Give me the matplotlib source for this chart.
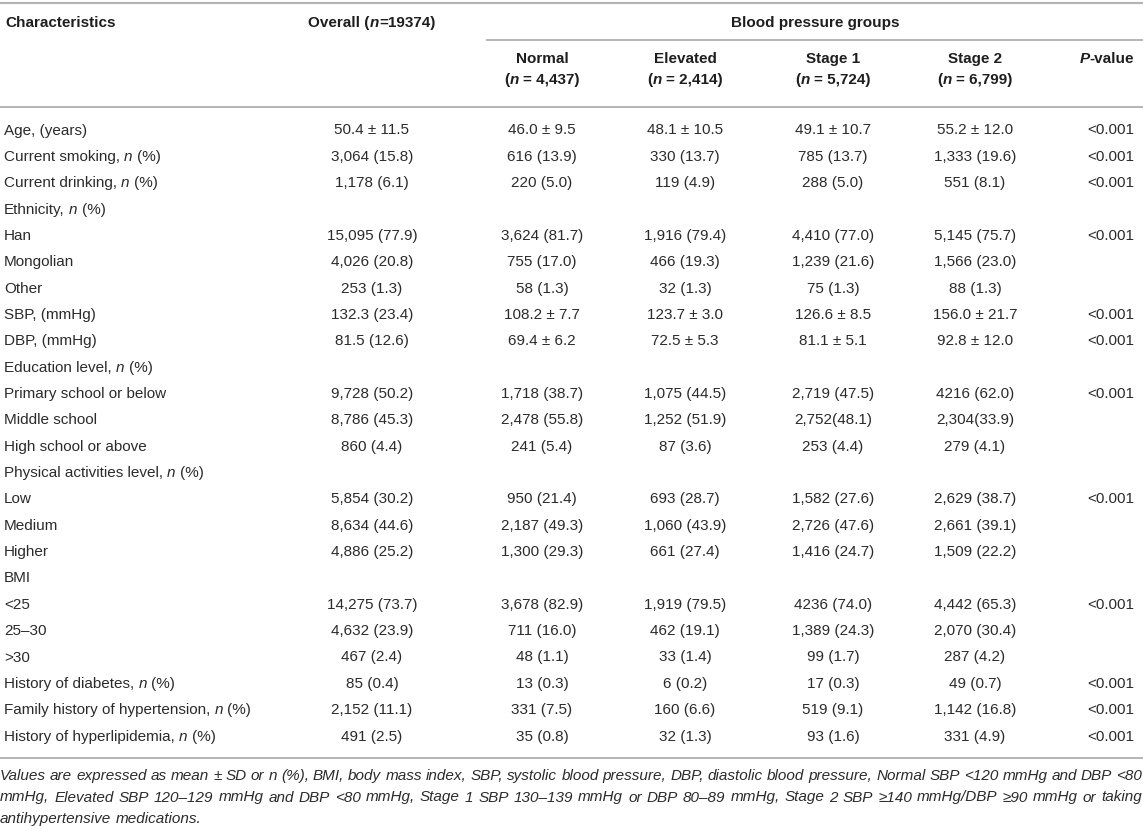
import matplotlib
matplotlib.use("Agg")
import matplotlib.pyplot as plt

plt.rcParams['font.family'] = ['Liberation Sans', 'DejaVu Sans']

# table data ("*n*" marks the italic letter)
labels = ["Age, (years)", "Current smoking, *n* (%)", "Current drinking, *n* (%)",
          "Ethnicity, *n* (%)", "Han", "Mongolian", "Other", "SBP, (mmHg)", "DBP, (mmHg)",
          "Education level, *n* (%)", "Primary school or below", "Middle school",
          "High school or above", "Physical activities level, *n* (%)", "Low", "Medium",
          "Higher", "BMI", "<25", "25–30", ">30", "History of diabetes, *n* (%)",
          "Family history of hypertension, *n* (%)", "History of hyperlipidemia, *n* (%)"]
overall = ["50.4 ± 11.5", "3,064 (15.8)", "1,178 (6.1)", "", "15,095 (77.9)", "4,026 (20.8)",
           "253 (1.3)", "132.3 (23.4)", "81.5 (12.6)", "", "9,728 (50.2)", "8,786 (45.3)",
           "860 (4.4)", "", "5,854 (30.2)", "8,634 (44.6)", "4,886 (25.2)", "",
           "14,275 (73.7)", "4,632 (23.9)", "467 (2.4)", "85 (0.4)", "2,152 (11.1)", "491 (2.5)"]
normal = ["46.0 ± 9.5", "616 (13.9)", "220 (5.0)", "", "3,624 (81.7)", "755 (17.0)", "58 (1.3)",
          "108.2 ± 7.7", "69.4 ± 6.2", "", "1,718 (38.7)", "2,478 (55.8)", "241 (5.4)", "",
          "950 (21.4)", "2,187 (49.3)", "1,300 (29.3)", "", "3,678 (82.9)", "711 (16.0)",
          "48 (1.1)", "13 (0.3)", "331 (7.5)", "35 (0.8)"]
elevated = ["48.1 ± 10.5", "330 (13.7)", "119 (4.9)", "", "1,916 (79.4)", "466 (19.3)", "32 (1.3)",
            "123.7 ± 3.0", "72.5 ± 5.3", "", "1,075 (44.5)", "1,252 (51.9)", "87 (3.6)", "",
            "693 (28.7)", "1,060 (43.9)", "661 (27.4)", "", "1,919 (79.5)", "462 (19.1)",
            "33 (1.4)", "6 (0.2)", "160 (6.6)", "32 (1.3)"]
stage1 = ["49.1 ± 10.7", "785 (13.7)", "288 (5.0)", "", "4,410 (77.0)", "1,239 (21.6)", "75 (1.3)",
          "126.6 ± 8.5", "81.1 ± 5.1", "", "2,719 (47.5)", "2,752(48.1)", "253 (4.4)", "",
          "1,582 (27.6)", "2,726 (47.6)", "1,416 (24.7)", "", "4236 (74.0)", "1,389 (24.3)",
          "99 (1.7)", "17 (0.3)", "519 (9.1)", "93 (1.6)"]
stage2 = ["55.2 ± 12.0", "1,333 (19.6)", "551 (8.1)", "", "5,145 (75.7)", "1,566 (23.0)", "88 (1.3)",
          "156.0 ± 21.7", "92.8 ± 12.0", "", "4216 (62.0)", "2,304(33.9)", "279 (4.1)", "",
          "2,629 (38.7)", "2,661 (39.1)", "1,509 (22.2)", "", "4,442 (65.3)", "2,070 (30.4)",
          "287 (4.2)", "49 (0.7)", "1,142 (16.8)", "331 (4.9)"]
pvals = ["<0.001", "<0.001", "<0.001", "", "<0.001", "", "", "<0.001", "<0.001", "",
         "<0.001", "", "", "", "<0.001", "", "", "", "<0.001", "", "", "<0.001", "<0.001", "<0.001"]
groups = ["Normal", "Elevated", "Stage 1", "Stage 2"]
group_n = ["4,437", "2,414", "5,724", "6,799"]

footnote = [
    "Values are expressed as mean ± SD or n (%), BMI, body mass index, SBP, systolic blood pressure, "
    "DBP, diastolic blood pressure, Normal SBP <120 mmHg and DBP <80",
    "mmHg, Elevated SBP 120–129 mmHg and DBP <80 mmHg, Stage 1 SBP 130–139 mmHg or DBP 80–89 mmHg, "
    "Stage 2 SBP ≥140 mmHg/DBP ≥90 mmHg or taking",
    "antihypertensive medications.",
]

W, H = 1143, 826
fig = plt.figure(figsize=(W / 100, H / 100), dpi=100)
ax = fig.add_axes([0, 0, 1, 1])
ax.set_xlim(0, W)
ax.set_ylim(H, 0)
ax.axis('off')
fig.canvas.draw()
r = fig.canvas.get_renderer()

txt = '#2b2b2b'
hdr = '#1e1e1e'
line_c = '#b4b4b4'
fs = 11
space_w = 0.278 * fs * 100 / 72


def rich(x, y, s, ha='left', weight='normal', color=txt):
    # split on *..* markers, italic inside
    pieces = s.split('*')
    items = []
    for k, p in enumerate(pieces):
        if not p:
            continue
        lead = len(p) - len(p.lstrip(' '))
        trail = len(p) - len(p.rstrip(' '))
        t = ax.text(0, y, p.strip(' '), fontsize=fs, fontweight=weight, color=color,
                    style='italic' if k % 2 else 'normal', va='center')
        w = t.get_window_extent(r).width
        items.append([t, lead * space_w, w, trail * space_w])
    total = sum(a + b + c for _, a, b, c in items)
    x0 = {'left': x, 'center': x - total / 2, 'right': x - total}[ha]
    for t, a, w, c in items:
        x0 += a
        t.set_x(x0)
        x0 += w + c


# rules
ax.plot([0, W], [3, 3], color=line_c, lw=1.6)
ax.plot([487, W], [40, 40], color=line_c, lw=1.4)
ax.plot([0, W], [107, 107], color=line_c, lw=1.4)
ax.plot([0, W], [758, 758], color=line_c, lw=1.4)

# header
rich(5, 23, "Characteristics", weight='bold', color=hdr)
rich(372, 23, "Overall (*n*=19374)", ha='center', weight='bold', color=hdr)
rich(815, 23, "Blood pressure groups", ha='center', weight='bold', color=hdr)
col_x = [542, 685, 833, 975]
for x, g, n in zip(col_x, groups, group_n):
    rich(x, 59, g, ha='center', weight='bold', color=hdr)
    rich(x, 80, "(*n* = " + n + ")", ha='center', weight='bold', color=hdr)
rich(1134, 59, "*P*-value", ha='right', weight='bold', color=hdr)

# body
y0, dy = 130.5, 26.35
for i, lab in enumerate(labels):
    y = y0 + i * dy
    rich(4, y, lab)
    ax.text(372, y, overall[i], fontsize=fs, color=txt, va='center', ha='center')
    for x, col in zip(col_x, [normal, elevated, stage1, stage2]):
        ax.text(x, y, col[i], fontsize=fs, color=txt, va='center', ha='center')
    ax.text(1134, y, pvals[i], fontsize=fs, color=txt, va='center', ha='right')

# justified footnote
for k, line in enumerate(footnote):
    y = 776 + k * 21.5
    words = line.split(' ')
    ts = [ax.text(0, y, w, fontsize=fs, style='italic', color=txt, va='center') for w in words]
    widths = [t.get_window_extent(r).width for t in ts]
    if k < len(footnote) - 1:
        gap = (W - 1 - sum(widths)) / (len(words) - 1)
    else:
        gap = space_w
    x = 0
    for t, w in zip(ts, widths):
        t.set_x(x)
        x += w + gap

fig.savefig('out.png', dpi=100)
